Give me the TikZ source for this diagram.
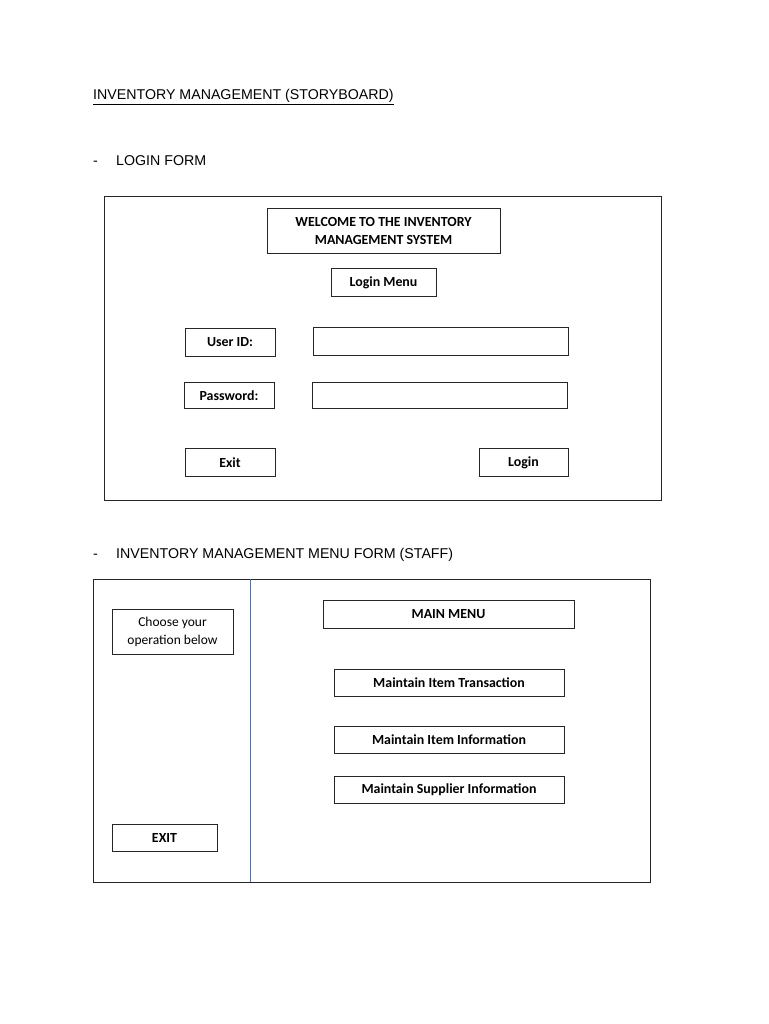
\documentclass[tikz,border=0pt]{standalone}
\usepackage{fontspec}
\setmainfont{Liberation Sans}
\newfontfamily\boxfont{Carlito}
\definecolor{divider}{HTML}{4472C4}
\begin{document}
\begin{tikzpicture}[x=1pt,y=-1pt,
  frame/.style={draw=black!85,line width=0.8pt},
  uibox/.style={draw=black!85,line width=0.8pt,inner sep=0pt,align=center,
    font=\boxfont\bfseries\fontsize{13.9}{18}\selectfont},
  heading/.style={anchor=base west,inner sep=0pt,font=\fontsize{14.2}{16}\selectfont}]
\useasboundingbox[fill=white] (0,0) rectangle (768,1024);
% title
\node[heading] (title) at (93,100) {\underline{INVENTORY MANAGEMENT (STORYBOARD)}};
\node[heading] (dash1) at (93,166) {-};
\node[heading] (sec1) at (116,166) {LOGIN FORM};
% login form
\draw[frame] (104,196) rectangle (661,500);
\node[uibox,minimum width=233pt,minimum height=45pt] (welcome) at (383.5,231) {WELCOME TO THE INVENTORY\\MANAGEMENT SYSTEM};
\node[uibox,minimum width=105pt,minimum height=28pt] (loginmenu) at (383.5,282.5) {Login Menu};
\node[uibox,minimum width=90pt,minimum height=28pt] (userid) at (230,342.5) {User ID:};
\node[uibox,minimum width=255pt,minimum height=28pt] (useridfield) at (440.5,341) {};
\node[uibox,minimum width=90pt,minimum height=26pt] (password) at (229,395.5) {Password:};
\node[uibox,minimum width=255pt,minimum height=26pt] (passwordfield) at (439.5,395) {};
\node[uibox,minimum width=90pt,minimum height=28pt] (exit) at (230,462.5) {Exit};
\node[uibox,minimum width=89pt,minimum height=28pt] (login) at (523.5,462.5) {Login};
% menu form
\node[heading] (dash2) at (93,558) {-};
\node[heading] (sec2) at (116,558) {INVENTORY MANAGEMENT MENU FORM (STAFF)};
\draw[frame] (93,579) rectangle (650,882);
\draw[color=divider,line width=0.8pt] (250,579) -- (250,882);
\node[uibox,minimum width=121pt,minimum height=45pt,font=\boxfont\fontsize{13.5}{18}\selectfont] (choose) at (172.5,632) {Choose your\\operation below};
\node[uibox,minimum width=105pt,minimum height=27pt] (exitmenu) at (164.5,838) {EXIT};
\node[uibox,minimum width=251pt,minimum height=28pt] (mainmenu) at (448.5,614.5) {MAIN MENU};
\node[uibox,minimum width=230pt,minimum height=27pt] (trans) at (449,683) {Maintain Item Transaction};
\node[uibox,minimum width=230pt,minimum height=27pt] (iteminfo) at (449,740) {Maintain Item Information};
\node[uibox,minimum width=230pt,minimum height=27pt] (supinfo) at (449,790) {Maintain Supplier Information};
\end{tikzpicture}
\end{document}
